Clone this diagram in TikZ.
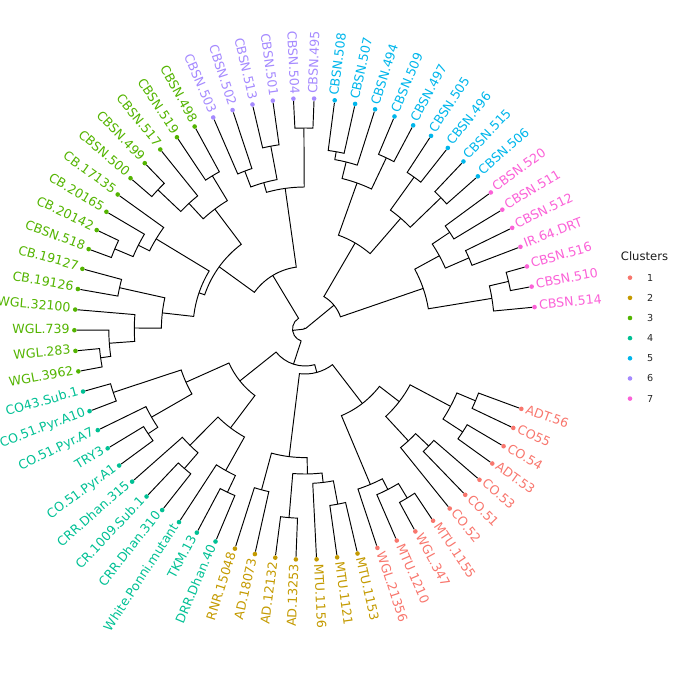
\documentclass[tikz,border=0pt]{standalone}
\usepackage{fontspec}
\setmainfont{DejaVu Sans}
\definecolor{cA}{HTML}{F8766D}
\definecolor{cB}{HTML}{C49A00}
\definecolor{cC}{HTML}{53B400}
\definecolor{cD}{HTML}{00C094}
\definecolor{cE}{HTML}{00B6EB}
\definecolor{cF}{HTML}{A58AFF}
\definecolor{cG}{HTML}{FB61D7}
\def\dThZero{5.45}
\def\dDTh{5.142857}
\def\dRLeaf{230.6}
\def\dRText{235.2}
\tikzset{
  leafdot/.style={circle, inner sep=0pt, minimum size=4.6pt, draw=none},
  leaflab/.style={font=\fontsize{12.6}{14}\selectfont, inner sep=0pt},
  brline/.style={line width=0.95pt, black},
  legtxt/.style={font=\fontsize{9.6}{11}\selectfont, inner sep=0pt, text=black!85},
}
\newcommand{\dLeaf}[4]{%
  \pgfmathsetmacro{\dLa}{\dThZero+#2*\dDTh}%
  \expandafter\xdef\csname dAng@#1\endcsname{\dLa}%
  \node[leafdot, fill=#3] (#1) at (\dLa:\dRLeaf) {};%
  \pgfmathtruncatemacro{\dSide}{(\dLa>90)&&(\dLa<270)}%
  \ifnum\dSide=1
    \pgfmathsetmacro{\dRot}{\dLa+180}%
    \node[leaflab, text=#3, anchor=mid east, rotate=\dRot] (#1t) at (\dLa:\dRText) {#4};%
  \else
    \node[leaflab, text=#3, anchor=mid west, rotate=\dLa] (#1t) at (\dLa:\dRText) {#4};%
  \fi
}
\newcommand{\dJoin}[4]{%
  \edef\dJa{\csname dAng@#2\endcsname}%
  \edef\dJb{\csname dAng@#3\endcsname}%
  \pgfmathsetmacro{\dJm}{(\dJa+\dJb)/2}%
  \expandafter\xdef\csname dAng@#1\endcsname{\dJm}%
  \coordinate (#1) at (\dJm:#4);%
  \draw[brline] (#2) -- (\dJa:#4) arc[start angle=\dJa, end angle=\dJb, radius=#4pt] -- (#3);%
}
\begin{document}
\begin{tikzpicture}[x=1pt,y=1pt]
\useasboundingbox (-305,-345) rectangle (380,329);
% leaves
\dLeaf{L514}{0}{cG}{CBSN.514}
\dLeaf{L510}{1}{cG}{CBSN.510}
\dLeaf{L516}{2}{cG}{CBSN.516}
\dLeaf{LIR}{3}{cG}{IR.64.DRT}
\dLeaf{L512}{4}{cG}{CBSN.512}
\dLeaf{L511}{5}{cG}{CBSN.511}
\dLeaf{L520}{6}{cG}{CBSN.520}
\dLeaf{L506}{7}{cE}{CBSN.506}
\dLeaf{L515}{8}{cE}{CBSN.515}
\dLeaf{L496}{9}{cE}{CBSN.496}
\dLeaf{L505}{10}{cE}{CBSN.505}
\dLeaf{L497}{11}{cE}{CBSN.497}
\dLeaf{L509}{12}{cE}{CBSN.509}
\dLeaf{L494}{13}{cE}{CBSN.494}
\dLeaf{L507}{14}{cE}{CBSN.507}
\dLeaf{L508}{15}{cE}{CBSN.508}
\dLeaf{L495}{16}{cF}{CBSN.495}
\dLeaf{L504}{17}{cF}{CBSN.504}
\dLeaf{L501}{18}{cF}{CBSN.501}
\dLeaf{L513}{19}{cF}{CBSN.513}
\dLeaf{L502}{20}{cF}{CBSN.502}
\dLeaf{L503}{21}{cF}{CBSN.503}
\dLeaf{L498}{22}{cC}{CBSN.498}
\dLeaf{L519}{23}{cC}{CBSN.519}
\dLeaf{L517}{24}{cC}{CBSN.517}
\dLeaf{L499}{25}{cC}{CBSN.499}
\dLeaf{L500}{26}{cC}{CBSN.500}
\dLeaf{L17135}{27}{cC}{CB.17135}
\dLeaf{L20165}{28}{cC}{CB.20165}
\dLeaf{L20142}{29}{cC}{CB.20142}
\dLeaf{L518}{30}{cC}{CBSN.518}
\dLeaf{L19127}{31}{cC}{CB.19127}
\dLeaf{L19126}{32}{cC}{CB.19126}
\dLeaf{L32100}{33}{cC}{WGL.32100}
\dLeaf{L739}{34}{cC}{WGL.739}
\dLeaf{L283}{35}{cC}{WGL.283}
\dLeaf{L3962}{36}{cC}{WGL.3962}
\dLeaf{LCO43}{37}{cD}{CO43.Sub.1}
\dLeaf{LA10}{38}{cD}{CO.51.Pyr.A10}
\dLeaf{LA7}{39}{cD}{CO.51.Pyr.A7}
\dLeaf{LTRY}{40}{cD}{TRY3}
\dLeaf{LA1}{41}{cD}{CO.51.Pyr.A1}
\dLeaf{L315}{42}{cD}{CRR.Dhan.315}
\dLeaf{L1009}{43}{cD}{CR.1009.Sub.1}
\dLeaf{L310}{44}{cD}{CRR.Dhan.310}
\dLeaf{LWP}{45}{cD}{White.Ponni.mutant}
\dLeaf{LTKM}{46}{cD}{TKM.13}
\dLeaf{LDRR}{47}{cD}{DRR.Dhan.40}
\dLeaf{LRNR}{48}{cB}{RNR.15048}
\dLeaf{L18073}{49}{cB}{AD.18073}
\dLeaf{L12132}{50}{cB}{AD.12132}
\dLeaf{L13253}{51}{cB}{AD.13253}
\dLeaf{L1156}{52}{cB}{MTU.1156}
\dLeaf{L1121}{53}{cB}{MTU.1121}
\dLeaf{L1153}{54}{cB}{MTU.1153}
\dLeaf{L21356}{55}{cA}{WGL.21356}
\dLeaf{L1210}{56}{cA}{MTU.1210}
\dLeaf{L347}{57}{cA}{WGL.347}
\dLeaf{L1155}{58}{cA}{MTU.1155}
\dLeaf{LCO52}{59}{cA}{CO.52}
\dLeaf{LCO51}{60}{cA}{CO.51}
\dLeaf{LCO53}{61}{cA}{CO.53}
\dLeaf{LADT53}{62}{cA}{ADT.53}
\dLeaf{LCO54}{63}{cA}{CO.54}
\dLeaf{LCO55}{64}{cA}{CO55}
\dLeaf{LADT56}{65}{cA}{ADT.56}
% purple
\dJoin{P1}{L495}{L504}{201}
\dJoin{P2}{L501}{L513}{186}
\dJoin{P3}{L502}{L503}{169}
\dJoin{P4}{P2}{P3}{152}
\dJoin{P5}{P1}{P4}{142}
% green
\dJoin{G1}{L498}{L519}{179}
\dJoin{G2}{L499}{L500}{202.5}
\dJoin{G3}{L517}{G2}{171}
\dJoin{G4}{G1}{G3}{150}
\dJoin{G5}{L20142}{L518}{206.4}
\dJoin{G6}{L20165}{G5}{186.5}
\dJoin{G7}{L17135}{G6}{174}
\dJoin{G8}{L19127}{L19126}{190}
\dJoin{G9}{L283}{L3962}{206.4}
\dJoin{G10}{L739}{G9}{196.2}
\dJoin{G11}{L32100}{G10}{170.7}
\dJoin{G12}{G8}{G11}{143.6}
\dJoin{G13}{G7}{G12}{112}
\dJoin{G14}{G4}{G13}{106}
\dJoin{G15}{P5}{G14}{62.5}
% blue
\dJoin{B1}{L507}{L508}{180}
\dJoin{B2}{L494}{B1}{172}
\dJoin{B3}{L497}{L509}{189.5}
\dJoin{B4}{B3}{B2}{155}
\dJoin{B5}{L496}{L505}{187}
\dJoin{B6}{L506}{L515}{189}
\dJoin{B7}{B6}{B5}{146.4}
\dJoin{B8}{B7}{B4}{99.6}
% pink
\dJoin{K1}{L511}{L520}{174}
\dJoin{K2}{LIR}{L512}{178.7}
\dJoin{K3}{K2}{K1}{153}
\dJoin{K4}{L510}{L516}{209}
\dJoin{K5}{L514}{K4}{189.4}
\dJoin{K6}{K5}{K3}{125}
\dJoin{B9}{K6}{B8}{37.5}
% teal
\dJoin{T1}{LCO43}{LA10}{202}
\dJoin{T2}{LTRY}{LA1}{188.6}
\dJoin{T3}{LA7}{T2}{177}
\dJoin{T4}{T1}{T3}{130.4}
\dJoin{T5}{L1009}{L310}{184.4}
\dJoin{T6}{L315}{T5}{163.6}
\dJoin{T7}{LTKM}{LDRR}{180.7}
\dJoin{T8}{LWP}{T7}{162.2}
\dJoin{T10}{T6}{T8}{123.8}
\dJoin{T11}{T4}{T10}{83.3}
% gold
\dJoin{D1}{LRNR}{L18073}{166.6}
\dJoin{D2}{L12132}{L13253}{189.3}
\dJoin{D3}{L1121}{L1153}{178.2}
\dJoin{D4}{L1156}{D3}{154.5}
\dJoin{D5}{D2}{D4}{145}
\dJoin{D6}{D1}{D5}{128.6}
% red
\dJoin{R1}{LCO55}{LADT56}{185}
\dJoin{R2}{LADT53}{LCO54}{188.3}
\dJoin{R3}{R2}{R1}{164.8}
\dJoin{R4}{LCO51}{LCO53}{170.3}
\dJoin{R5}{LCO52}{R4}{152.3}
\dJoin{R6}{R5}{R3}{119}
\dJoin{R7}{L347}{L1155}{197.5}
\dJoin{R8}{L1210}{R7}{180.6}
\dJoin{R9}{L21356}{R8}{168.6}
\dJoin{R10}{R9}{R6}{94}
% top levels
\dJoin{X1}{D6}{R10}{45}
\dJoin{X2}{T11}{X1}{37}
\dJoin{X3}{G15}{X2}{12.5}
\dJoin{RT}{B9}{X3}{1}
% legend
\node[anchor=west, inner sep=0pt, font=\fontsize{11.6}{13}\selectfont, text=black!90] (legt) at (315.7,73) {Clusters};
\foreach \i/\c in {1/cA,2/cB,3/cC,4/cD,5/cE,6/cF,7/cG}{
  \node[leafdot, fill=\c] (ld\i) at (325,{51.3-(\i-1)*20.15}) {};
  \node[legtxt, anchor=west] (ln\i) at (342,{51.3-(\i-1)*20.15}) {\i};
}
\end{tikzpicture}
\end{document}
